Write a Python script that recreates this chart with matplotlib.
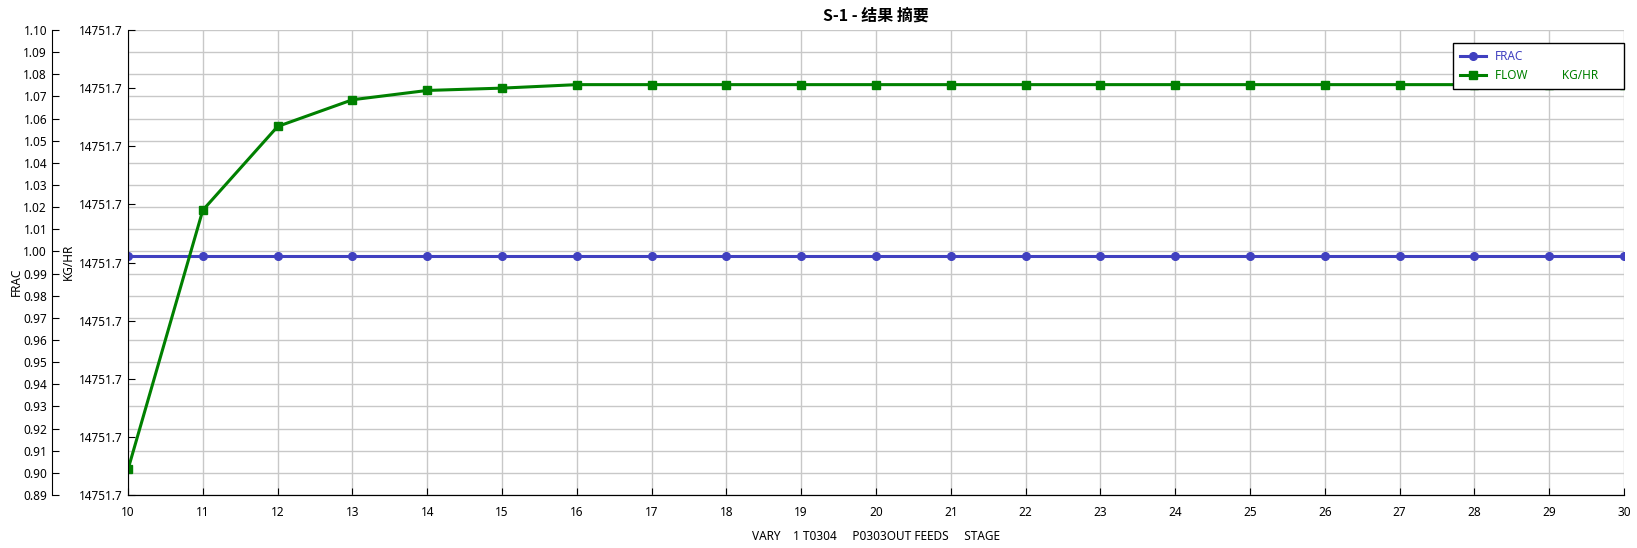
import matplotlib
matplotlib.use("Agg")
from matplotlib import pyplot as plt
from matplotlib.ticker import FormatStrFormatter, MultipleLocator

plt.rcParams['font.family'] = ['Noto Sans', 'Noto Sans CJK SC', 'DejaVu Sans']

# data
stage = list(range(10, 31))
frac = [0.998] * 21
flow = [14751.6822, 14751.7045, 14751.7117, 14751.7140, 14751.7148, 14751.7150] + [14751.7153] * 15

frac_ticks = [round(0.89 + 0.01 * i, 2) for i in range(22)]
flow_lo, flow_hi = 14751.68, 14751.72

blue = "#4040c0"
green = "#008000"

fig = plt.figure(figsize=(16.37, 5.48), dpi=100)
ax = fig.add_axes([128 / 1637, 1 - 495 / 548, (1624 - 128) / 1637, 465 / 548])
ax2 = ax.twinx()

# FRAC on the outer left axis
l1, = ax.plot(stage, frac, color=blue, lw=2.2, marker="o", ms=5.5, label="FRAC")
ax.set_ylim(0.89, 1.10)
ax.set_yticks(frac_ticks)
ax.yaxis.set_major_formatter(FormatStrFormatter("%.2f"))
ax.spines["left"].set_position(("axes", (52 - 128) / 1496))
ax.spines["top"].set_visible(False)
ax.spines["right"].set_visible(False)
ax.set_xlim(10, 30)
ax.xaxis.set_major_locator(MultipleLocator(1))
ax.grid(True, color="#c8c8c8", lw=1)
ax.set_axisbelow(True)
ax.tick_params(axis="both", direction="in", length=5, labelsize=8.5, colors="black")
ax.tick_params(axis="x", pad=8)

# FLOW on the inner left axis
l2, = ax2.plot(stage, flow, color=green, lw=2.2, marker="s", ms=6, label="FLOW           KG/HR      ")
ax2.set_ylim(flow_lo, flow_hi)
ax2.set_yticks([flow_lo + 0.005 * i for i in range(9)])
ax2.yaxis.set_major_formatter(FormatStrFormatter("%.1f"))
ax2.yaxis.set_ticks_position("left")
ax2.yaxis.set_label_position("left")
ax2.spines["left"].set_visible(True)
ax2.spines["left"].set_position(("axes", 0))
ax2.spines["right"].set_visible(False)
ax2.spines["top"].set_visible(False)
ax2.tick_params(axis="y", direction="in", length=5, labelsize=8.5)

fig.text(16 / 1637, 1 - 282 / 548, "FRAC", rotation=90, ha="center", va="center", fontsize=8.5)
fig.text(68 / 1637, 1 - 262 / 548, "KG/HR", rotation=90, ha="center", va="center", fontsize=8.5)

ax.set_title("S-1 - 结果 摘要", fontsize=11.5, fontweight="bold", pad=7,
             family=["Noto Sans CJK SC", "DejaVu Sans"])
ax.set_xlabel("VARY    1 T0304     P0303OUT FEEDS     STAGE", fontsize=8.5, labelpad=8)

leg = ax2.legend(handles=[l1, l2], loc="upper right", bbox_to_anchor=(1.0, (495 - 43) / 465),
                 fancybox=False, edgecolor="black", framealpha=1, fontsize=8.5,
                 labelcolor="linecolor", handlelength=2.2, borderpad=0.6, borderaxespad=0)
leg.get_frame().set_linewidth(1)

plt.savefig("out.png", dpi=100)
